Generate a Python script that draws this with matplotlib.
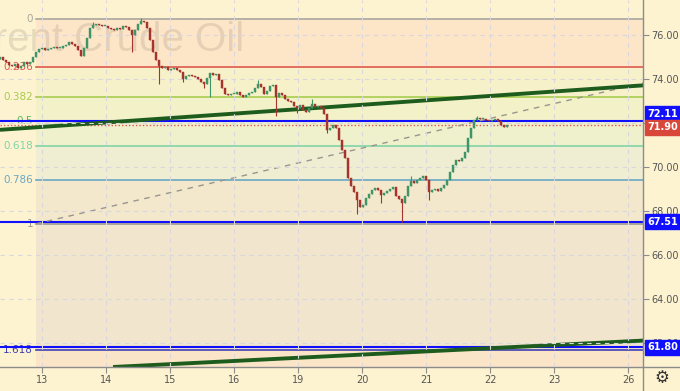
import numpy as np
import matplotlib
matplotlib.use("Agg")
import matplotlib.pyplot as plt
import matplotlib.transforms as mtransforms
from matplotlib.lines import Line2D

# ---------------- data ----------------
closes = [
    75.00, 74.86, 74.77, 74.64, 74.59, 74.68, 74.50, 74.59, 74.77, 74.68,
    74.77, 75.00, 75.23, 75.36, 75.41, 75.32, 75.36, 75.41, 75.45, 75.41,
    75.41, 75.50, 75.55, 75.68, 75.59, 75.50, 75.32, 75.05, 75.41, 75.86,
    76.32, 76.45, 76.50, 76.45, 76.41, 76.41, 76.32, 76.27, 76.23, 76.32,
    76.27, 76.41, 76.36, 76.23, 76.00, 76.23, 76.50, 76.64, 76.59, 76.32,
    75.77, 75.23, 74.86, 74.59, 74.50, 74.55, 74.41, 74.45, 74.50, 74.41,
    74.32, 74.00, 74.14, 74.18, 74.14, 74.09, 74.00, 73.86, 73.77, 74.05,
    74.27, 74.18, 74.23, 73.95, 73.59, 73.32, 73.27, 73.32, 73.32, 73.41,
    73.27, 73.18, 73.27, 73.36, 73.41, 73.59, 73.77, 73.64, 73.32, 73.45,
    73.68, 73.73, 73.18, 73.36, 73.27, 73.09, 73.00, 72.95, 72.77, 72.68,
    72.82, 72.59, 72.50, 72.68, 72.86, 72.73, 72.77, 72.68, 72.41, 71.68,
    71.77, 71.91, 71.77, 71.23, 70.77, 70.41, 69.50, 69.14, 68.86, 68.50,
    68.18, 68.27, 68.59, 68.77, 68.95, 69.05, 68.95, 68.73, 68.82, 68.91,
    69.00, 69.09, 68.68, 68.55, 68.36, 68.68, 69.14, 69.36, 69.27, 69.41,
    69.50, 69.59, 69.41, 68.86, 68.95, 69.00, 68.91, 69.05, 69.18, 69.41,
    69.77, 70.09, 70.32, 70.27, 70.41, 70.68, 71.32, 71.77, 72.14, 72.23,
    72.18, 72.18, 72.14, 72.09, 72.14, 72.18, 72.09, 71.91, 71.82, 71.90,
]
first_open = 74.90
# notable wicks: candle index -> price
wick_highs = {31: 76.59, 47: 76.77, 86: 73.95, 104: 73.09, 137: 69.59, 159: 72.32}
wick_lows = {44: 75.23, 53: 73.77, 61: 73.86, 68: 73.59, 70: 73.18, 92: 72.32,
             99: 72.45, 109: 71.55, 119: 67.86, 127: 68.36, 134: 67.50, 143: 68.50}

# time axis in trading-day units (13th = 0)
start_day = -0.656
candle_step = 3 / 64
x_ticks = [0, 1, 2, 3, 4, 5, 6, 7, 8, 9.16]
x_labels = ['13', '14', '15', '16', '19', '20', '21', '22', '23', '26']
xlim = (-0.656, 9.39)
ylim = (60.91, 77.59)
price_ticks = [62, 64, 66, 68, 70, 72, 74, 76]

# fibonacci retracement
fib_start_x = -0.094
fib0, fib1 = 76.73, 67.42
fib_ratios = [0, 0.236, 0.382, 0.5, 0.618, 0.786, 1, 1.618]
fib_labels = ['0', '0.236', '0.382', '0.5', '0.618', '0.786', '1', '1.618']
fib_colors = ['#aaa69c', '#e0584f', '#a8cc50', '#5cb85c', '#80d4a6', '#6aa8c4', '#9e9a90', '#4040b0']
band_colors = ['#fde6c8', '#f7f1c9', '#f3f1c8', '#eff0cc', '#efeed2', '#f3e8cc', '#f1e5cd', '#fbe5c8']

# horizontal levels
blue_levels = [72.11, 67.51, 61.80]
last_price = 71.90

# trend lines (x in day units, y in price)
trend1_x, trend1_y = [-0.656, 9.39], [71.69, 73.71]
trend2_x, trend2_y = [1.11, 9.39], [60.91, 62.11]
dash_x, dash_y = [-0.094, 9.39], [67.42, 73.82]

# ---------------- figure ----------------
BG = '#fdf3d1'
W, H = 680, 391
fig = plt.figure(figsize=(W / 100, H / 100), dpi=100, facecolor=BG)
ax = fig.add_axes([0, 24 / H, 643 / W, 367 / H])
ax.set_facecolor(BG)
ax.set_xlim(*xlim)
ax.set_ylim(*ylim)

# fib bands and lines
levels = [fib0 - r * (fib0 - fib1) for r in fib_ratios]
for i in range(len(levels)):
    top = levels[i]
    bot = levels[i + 1] if i + 1 < len(levels) else ylim[0]
    ax.fill_between([fib_start_x, xlim[1]], bot, top, color=band_colors[i], lw=0, zorder=0.5)
for lvl, col, lab in zip(levels, fib_colors, fib_labels):
    ax.plot([fib_start_x, xlim[1]], [lvl, lvl], color=col, lw=1.2, zorder=1.5)
    ax.text(fib_start_x - 0.045, lvl, lab, color=col, fontsize=7.5, ha='right', va='center',
            zorder=1.6, family='DejaVu Sans')

# watermark
ax.text(244 / 643, 1 - 40 / 367, 'Brent Crude Oil', transform=ax.transAxes, fontsize=29,
        color=(0.45, 0.4, 0.35), alpha=0.17, ha='right', va='center', zorder=0.8,
        family='Liberation Sans')

# grid / ticks
ax.set_xticks(x_ticks)
ax.set_xticklabels(x_labels)
ax.yaxis.tick_right()
ax.set_yticks(price_ticks)
ax.set_yticklabels([f'{p:.2f}' for p in price_ticks])
ax.grid(True, color='#d9d6de', lw=0.8, linestyle=(0, (4, 4)), zorder=1)
ax.set_axisbelow(False)

# candles
n = len(closes)
xs = start_day + candle_step * np.arange(n)
opens = [first_open] + closes[:-1]
for i in range(n):
    o, c = opens[i], closes[i]
    hi = max(wick_highs.get(i, max(o, c)), o, c)
    lo = min(wick_lows.get(i, min(o, c)), o, c)
    col = '#3f9468' if c >= o else '#a5342c'
    ax.vlines(xs[i], lo, hi, color=col, lw=0.8, zorder=3)
    h = max(abs(c - o), 0.04)
    ax.bar(xs[i], h, bottom=min(o, c), width=0.032, color=col, edgecolor=col, lw=0.3, zorder=3.1)

# levels
for lv in blue_levels:
    ax.axhline(lv, color='#1010ff', lw=1.5, zorder=2.2)
ax.axhline(last_price, color='#e0584f', lw=1.0, linestyle=(0, (1, 1.5)), zorder=2.1)

# trend lines
ax.plot(trend1_x, trend1_y, color='#1e5c1e', lw=2.8, solid_capstyle='butt', zorder=2.4)
ax.plot(trend2_x, trend2_y, color='#1e5c1e', lw=2.8, solid_capstyle='butt', zorder=2.4)
ax.plot(dash_x, dash_y, color='#9a968e', lw=1.0, linestyle=(0, (4, 4)), zorder=2.3)

# axes styling
for s in ['left', 'top']:
    ax.spines[s].set_visible(False)
for s in ['bottom', 'right']:
    ax.spines[s].set_color('#8c8c8c')
    ax.spines[s].set_linewidth(1.0)
ax.tick_params(axis='both', colors='#8c8c8c', labelcolor='#555555', labelsize=7, length=4, width=0.8)
ax.tick_params(axis='y', pad=2)
ax.tick_params(axis='x', pad=2)

# price boxes on the right axis (nudged vertically like the reference to avoid overlap)
box_specs = [(72.11, '#1010ff', 7), (last_price, '#d9473a', -2), (67.51, '#1010ff', 0), (61.80, '#1010ff', 0)]
ytrans = ax.get_yaxis_transform()
for price, col, dy in box_specs:
    tr = mtransforms.offset_copy(ytrans, fig=fig, x=0, y=dy, units='dots')
    ax.text(1.0 + 4 / 643, price, f'{price:.2f}', transform=tr,
            ha='left', va='center', fontsize=7, fontweight='bold', color='white',
            clip_on=False, zorder=5,
            bbox=dict(boxstyle='square,pad=0.25', fc=col, ec=col))

# extra frame lines and gear
fig.add_artist(Line2D([643 / W, 643 / W], [0, 24 / H], color='#8c8c8c', lw=1.0))
fig.add_artist(Line2D([643 / W, 1], [24 / H, 24 / H], color='#8c8c8c', lw=1.0))
fig.text(662 / W, 1 - 378 / H, '\u2699', fontsize=12, color='#333333', ha='center', va='center',
         family='DejaVu Sans')

fig.savefig('out.png', dpi=100, facecolor=BG)
